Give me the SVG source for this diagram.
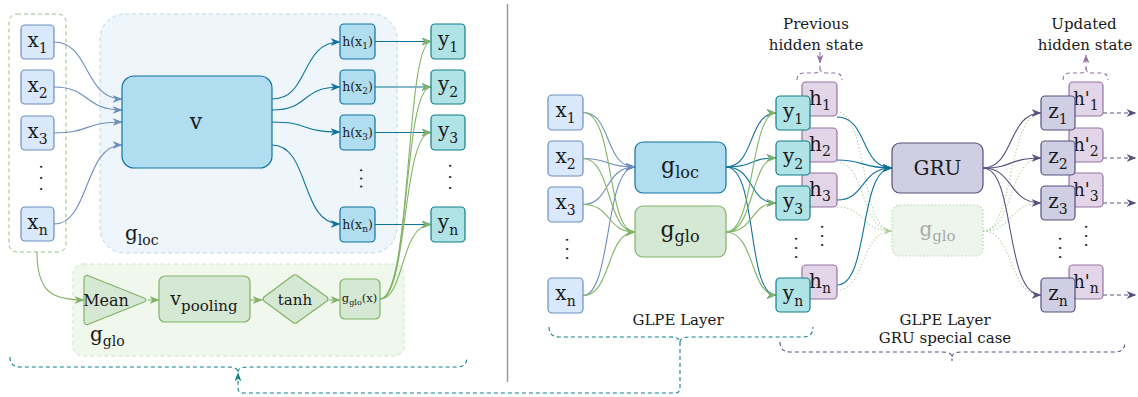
<svg xmlns="http://www.w3.org/2000/svg" width="1138" height="397" viewBox="0 0 1138 397">
  <style>
    text { font-family: "DejaVu Serif", "Liberation Serif", serif; fill: #1a1a1a; }
    .c { text-anchor: middle; }
    .big { font-size: 20px; }
    .sub { font-size: 14px; }
    .cap { font-size: 15px; }
    .blue { fill: #dae8fc; stroke: #6c8ebf; stroke-width: 1.2; }
    .cyan { fill: #b1ddf0; stroke: #10739e; stroke-width: 1.2; }
    .teal { fill: #b0e3e6; stroke: #0e8088; stroke-width: 1.2; }
    .green { fill: #d5e8d4; stroke: #82b366; stroke-width: 1.2; }
    .lilac { fill: #e1d5e7; stroke: #9673a6; stroke-width: 1.2; }
    .violet { fill: #d0cee2; stroke: #56517e; stroke-width: 1.2; }
    .faded { fill: #eef5ec; stroke: #b9d7ad; stroke-width: 1.2; stroke-dasharray: 1.5 2; }
    .e { fill: none; stroke-width: 1.1; }
    .eb { stroke: #6c8ebf; marker-end: url(#ab); }
    .et { stroke: #10739e; marker-end: url(#at); }
    .eg { stroke: #82b366; marker-end: url(#ag); }
    .ev { stroke: #56517e; marker-end: url(#av); }
    .dot { stroke: #a9cf97; stroke-dasharray: 1.2 2.2; }
    .dots { font-size: 16px; }
  </style>
  <defs>
    <marker id="ab" viewBox="0 0 10 8" refX="9.5" refY="4" markerWidth="10" markerHeight="8" markerUnits="userSpaceOnUse" orient="auto"><path d="M0,0 L10,4 L0,8 L3,4 Z" fill="#6c8ebf"/></marker>
    <marker id="at" viewBox="0 0 10 8" refX="9.5" refY="4" markerWidth="10" markerHeight="8" markerUnits="userSpaceOnUse" orient="auto"><path d="M0,0 L10,4 L0,8 L3,4 Z" fill="#10739e"/></marker>
    <marker id="ag" viewBox="0 0 10 8" refX="9.5" refY="4" markerWidth="10" markerHeight="8" markerUnits="userSpaceOnUse" orient="auto"><path d="M0,0 L10,4 L0,8 L3,4 Z" fill="#82b366"/></marker>
    <marker id="av" viewBox="0 0 10 8" refX="9.5" refY="4" markerWidth="10" markerHeight="8" markerUnits="userSpaceOnUse" orient="auto"><path d="M0,0 L10,4 L0,8 L3,4 Z" fill="#56517e"/></marker>
    <marker id="ap" viewBox="0 0 10 8" refX="9.5" refY="4" markerWidth="9" markerHeight="7" markerUnits="userSpaceOnUse" orient="auto"><path d="M0,0 L10,4 L0,8 L3,4 Z" fill="#9673a6"/></marker>
    <marker id="ac" viewBox="0 0 10 8" refX="9.5" refY="4" markerWidth="9" markerHeight="7" markerUnits="userSpaceOnUse" orient="auto"><path d="M0,0 L10,4 L0,8 L3,4 Z" fill="#0e8088"/></marker>
  </defs>

  <!-- ========== left panel: containers ========== -->
  <g id="gloc-region">
    <rect x="100" y="14" width="297" height="239" rx="25" fill="#eef6fc" stroke="#b9d9e6" stroke-dasharray="4 3"/>
    <text x="125" y="240" class="big">g<tspan class="sub" dy="5">loc</tspan></text>
  </g>
  <g id="gglo-region">
    <rect x="73" y="264" width="331" height="92" rx="10" fill="#f0f7ed" stroke="#cfe4c6" stroke-dasharray="4 3"/>
    <text x="90" y="341" class="big">g<tspan class="sub" dy="5">glo</tspan></text>
  </g>
  <g id="inputs-frame">
    <rect x="9" y="14" width="57" height="238" rx="8" fill="none" stroke="#97c27d" stroke-dasharray="4 3"/>
  </g>

  <!-- ========== left panel: connectors ========== -->
  <g id="connectors-left" class="e">
    <path class="e eb" d="M54,42 C90,42 84,99 122,99"/>
    <path class="e eb" d="M54,87 C90,87 84,110 122,110"/>
    <path class="e eb" d="M54,133 C90,133 84,122 122,122"/>
    <path class="e eb" d="M54,224 C90,224 84,145 122,145"/>

    <path class="e et" d="M272,99 C310,99 300,42 340,42"/>
    <path class="e et" d="M272,110 C310,110 300,87 340,87"/>
    <path class="e et" d="M272,122 C310,122 300,132 340,132"/>
    <path class="e et" d="M272,145 C310,145 300,224 340,224"/>

    <path class="e et" d="M375,41.5 H431"/>
    <path class="e et" d="M375,87 H431"/>
    <path class="e et" d="M375,132.5 H431"/>
    <path class="e et" d="M375,224.5 H431"/>

    <path class="e eg" d="M380,299 C412,299 405,41.5 431,41.5"/>
    <path class="e eg" d="M380,299 C410,299 403,87 431,87"/>
    <path class="e eg" d="M380,299 C408,299 402,132.5 431,132.5"/>
    <path class="e eg" d="M380,299 C405,299 400,224.5 431,224.5"/>

    <path class="e eg" d="M37,252 C37,292 52,300 84,300"/>
    <path class="e eg" d="M148,300 H159"/>
    <path class="e eg" d="M250,300 H262"/>
    <path class="e eg" d="M329,300 H340"/>
  </g>

  <!-- ========== left panel: nodes ========== -->
  <g id="x1"><rect class="blue" x="21" y="25" width="33" height="34" rx="4"/><text x="37.5" y="47" class="c big">x<tspan class="sub" dy="6">1</tspan></text></g>
  <g id="x2"><rect class="blue" x="21" y="70" width="33" height="34" rx="4"/><text x="37.5" y="92" class="c big">x<tspan class="sub" dy="6">2</tspan></text></g>
  <g id="x3"><rect class="blue" x="21" y="116" width="33" height="34" rx="4"/><text x="37.5" y="138" class="c big">x<tspan class="sub" dy="6">3</tspan></text></g>
  <text x="36" y="181" class="dots" transform="rotate(90 36 181)" text-anchor="middle" letter-spacing="6" dy="-4">...</text>
  <g id="xn"><rect class="blue" x="21" y="207" width="33" height="34" rx="4"/><text x="37.5" y="229" class="c big">x<tspan class="sub" dy="6">n</tspan></text></g>

  <g id="V"><rect class="cyan" x="122" y="76" width="150" height="92" rx="12"/><text x="196" y="129" class="c" font-size="22">v</text></g>

  <g id="hx1"><rect class="cyan" x="340" y="24" width="35" height="35" rx="4"/><text x="357.5" y="46" class="c" font-size="12.5">h(x<tspan font-size="9" dy="3">1</tspan><tspan dy="-3">)</tspan></text></g>
  <g id="hx2"><rect class="cyan" x="340" y="70" width="35" height="34" rx="4"/><text x="357.5" y="91" class="c" font-size="12.5">h(x<tspan font-size="9" dy="3">2</tspan><tspan dy="-3">)</tspan></text></g>
  <g id="hx3"><rect class="cyan" x="340" y="115" width="35" height="35" rx="4"/><text x="357.5" y="137" class="c" font-size="12.5">h(x<tspan font-size="9" dy="3">3</tspan><tspan dy="-3">)</tspan></text></g>
  <text x="357" y="180" class="dots" font-size="13" transform="rotate(90 357 180)" text-anchor="middle" letter-spacing="3" dy="-3">...</text>
  <g id="hxn"><rect class="cyan" x="340" y="207" width="35" height="35" rx="4"/><text x="357.5" y="229" class="c" font-size="12.5">h(x<tspan font-size="9" dy="3">n</tspan><tspan dy="-3">)</tspan></text></g>

  <g id="y1"><rect class="teal" x="431" y="24" width="34" height="35" rx="4"/><text x="448" y="46" class="c big">y<tspan class="sub" dy="6">1</tspan></text></g>
  <g id="y2"><rect class="teal" x="431" y="70" width="34" height="34" rx="4"/><text x="448" y="91" class="c big">y<tspan class="sub" dy="6">2</tspan></text></g>
  <g id="y3"><rect class="teal" x="431" y="115" width="34" height="35" rx="4"/><text x="448" y="137" class="c big">y<tspan class="sub" dy="6">3</tspan></text></g>
  <text x="445" y="180" class="dots" transform="rotate(90 445 180)" text-anchor="middle" letter-spacing="6" dy="-4">...</text>
  <g id="yn"><rect class="teal" x="431" y="207" width="34" height="35" rx="4"/><text x="448" y="229" class="c big">y<tspan class="sub" dy="6">n</tspan></text></g>

  <g id="mean"><path class="green" stroke-linejoin="round" d="M84,279 Q84,274 89,276 L144,298 Q148,300 144,302 L89,324 Q84,326 84,321 Z"/><text x="106" y="306" class="c" font-size="16">Mean</text></g>
  <g id="vpooling"><rect class="green" x="159" y="276" width="91" height="46" rx="6"/><text x="204" y="305" class="c" font-size="19">v<tspan font-size="15" dy="6">pooling</tspan></text></g>
  <g id="tanh"><path class="green" stroke-linejoin="round" d="M264,297 L293,275.5 Q295,274 297,275.5 L327,297 Q329,299 327,301 L297,322.5 Q295,324 293,322.5 L264,301 Q262,299 264,297 Z"/><text x="295" y="305" class="c cap">tanh</text></g>
  <g id="gglox"><rect class="green" x="340" y="279" width="40" height="40" rx="5"/><text x="359.5" y="302" class="c" font-size="11.5">g<tspan font-size="8" dy="3">glo</tspan><tspan dy="-3">(x)</tspan></text></g>

  <!-- divider between the two panels -->
  <line x1="507.5" y1="4" x2="507.5" y2="382" stroke="#9a9a9a" stroke-width="1.5"/>

  <!-- ========== right panel: connectors ========== -->
  <g id="connectors-right">
    <path class="e eb" d="M583,112.5 C612,112.5 604,167 635,167"/>
    <path class="e eb" d="M583,158.5 C610,158.5 604,167 635,167"/>
    <path class="e eb" d="M583,204.5 C610,204.5 604,167 635,167"/>
    <path class="e eb" d="M583,295.5 C612,295.5 604,167 635,167"/>
    <path class="e eg" d="M583,112.5 C615,112.5 606,232 635,232"/>
    <path class="e eg" d="M583,158.5 C612,158.5 606,232 635,232"/>
    <path class="e eg" d="M583,204.5 C612,204.5 606,232 635,232"/>
    <path class="e eg" d="M583,295.5 C612,295.5 606,232 635,232"/>

    <path class="e et" d="M726,167 C755,167 748,113 776,113"/>
    <path class="e et" d="M726,167 C755,167 748,158 776,158"/>
    <path class="e et" d="M726,167 C755,167 748,203 776,203"/>
    <path class="e et" d="M726,167 C758,167 746,295 776,295"/>
    <path class="e eg" d="M726,232 C755,232 750,113 776,113"/>
    <path class="e eg" d="M726,232 C755,232 750,158 776,158"/>
    <path class="e eg" d="M726,232 C755,232 750,203 776,203"/>
    <path class="e eg" d="M726,232 C755,232 750,295 776,295"/>

    <path class="e dot" d="M837,112 C868,112 860,231 892,231"/>
    <path class="e dot" d="M837,162 C866,162 860,231 892,231"/>
    <path class="e dot" d="M837,207 C866,207 860,231 892,231"/>
    <path class="e dot" d="M837,290 C866,290 860,231 892,231"/>
    <path d="M884,227.5 L892,231 L884,234.5 L886.5,231 Z" fill="#a9cf97"/>

    <path class="e et" d="M837,117 C868,117 860,168 892,168"/>
    <path class="e et" d="M837,160 C866,160 860,168 892,168"/>
    <path class="e et" d="M837,200 C866,200 860,168 892,168"/>
    <path class="e et" d="M837,285 C870,285 858,168 892,168"/>

    <path class="e dot" d="M983,231 C1014,231 1008,113 1041,113"/>
    <path class="e dot" d="M983,231 C1014,231 1008,158 1041,158"/>
    <path class="e dot" d="M983,231 C1014,231 1008,203 1041,203"/>
    <path class="e dot" d="M983,231 C1014,231 1008,295 1041,295"/>

    <path class="e ev" d="M983,168 C1014,168 1008,113 1041,113"/>
    <path class="e ev" d="M983,168 C1014,168 1008,158 1041,158"/>
    <path class="e ev" d="M983,168 C1014,168 1008,203 1041,203"/>
    <path class="e ev" d="M983,168 C1016,168 1004,295 1041,295"/>

    <path class="e ev" stroke-dasharray="4 3" d="M1103,113 H1136"/>
    <path class="e ev" stroke-dasharray="4 3" d="M1103,158 H1136"/>
    <path class="e ev" stroke-dasharray="4 3" d="M1103,203 H1136"/>
    <path class="e ev" stroke-dasharray="4 3" d="M1103,295 H1136"/>

    <!-- hidden-state braces -->
    <path class="e" stroke="#9673a6" stroke-dasharray="4 3" d="M797,80 Q797,73 804,73 H814 Q820,73 820,68 V63 M820,68 Q820,73 826,73 H835 Q842,73 842,80"/>
    <path class="e" stroke="#9673a6" d="M820,52 V63" marker-end="url(#ap)"/>
    <path class="e" stroke="#9673a6" stroke-dasharray="4 3" d="M1063,80 Q1063,73 1070,73 H1080 Q1086,73 1086,68 M1086,68 Q1086,73 1092,73 H1101 Q1108,73 1108,80"/>
    <path class="e" stroke="#9673a6" stroke-dasharray="4 3" d="M1086,70 V55" marker-end="url(#ap)"/>

    <!-- layer braces -->
    <path class="e" stroke="#0e8088" stroke-dasharray="4 3" d="M10,357 Q10,367 20,367 H228 Q238,367 238,372 M238,372 Q238,367 248,367 H457 Q467,367 467,357"/>
    <path class="e" stroke="#0e8088" stroke-dasharray="4 3" d="M549,327 Q549,337 559,337 H670 Q680,337 680,342 M680,342 Q680,337 690,337 H803 Q813,337 813,327"/>
    <path class="e" stroke="#0e8088" stroke-dasharray="4 3" d="M680,342 V388 Q680,393 675,393 H243 Q238,393 238,388 V373" marker-end="url(#ac)"/>
    <path class="e" stroke="#56517e" stroke-dasharray="4 3" d="M780,342 Q780,352 790,352 H942 Q952,352 952,357 V361 M952,357 Q952,352 962,352 H1115 Q1125,352 1125,342"/>
  </g>

  <!-- ========== right panel: nodes ========== -->
  <g id="rx1"><rect class="blue" x="548" y="95" width="35" height="35" rx="4"/><text x="565.5" y="117" class="c big">x<tspan class="sub" dy="6">1</tspan></text></g>
  <g id="rx2"><rect class="blue" x="548" y="141" width="35" height="35" rx="4"/><text x="565.5" y="163" class="c big">x<tspan class="sub" dy="6">2</tspan></text></g>
  <g id="rx3"><rect class="blue" x="548" y="187" width="35" height="35" rx="4"/><text x="565.5" y="209" class="c big">x<tspan class="sub" dy="6">3</tspan></text></g>
  <text x="563" y="251" class="dots" font-size="14" transform="rotate(90 563 251)" text-anchor="middle" letter-spacing="4" dy="-3">...</text>
  <g id="rxn"><rect class="blue" x="548" y="278" width="35" height="35" rx="4"/><text x="565.5" y="300" class="c big">x<tspan class="sub" dy="6">n</tspan></text></g>

  <g id="gloc"><rect class="cyan" x="635" y="142" width="91" height="51" rx="8"/><text x="680" y="173" class="c" font-size="22">g<tspan font-size="16" dy="5">loc</tspan></text></g>
  <g id="gglo"><rect class="green" x="635" y="206" width="91" height="51" rx="8"/><text x="680" y="237" class="c" font-size="22">g<tspan font-size="16" dy="5">glo</tspan></text></g>

  <g id="h1"><rect class="lilac" x="802" y="82" width="35" height="34" rx="4"/><text x="820" y="105" class="c big">h<tspan class="sub" dy="5">1</tspan></text></g>
  <g id="h2"><rect class="lilac" x="802" y="128" width="35" height="34" rx="4"/><text x="820" y="151" class="c big">h<tspan class="sub" dy="5">2</tspan></text></g>
  <g id="h3"><rect class="lilac" x="802" y="173" width="35" height="34" rx="4"/><text x="820" y="196" class="c big">h<tspan class="sub" dy="5">3</tspan></text></g>
  <text x="818" y="238" class="dots" font-size="14" transform="rotate(90 818 238)" text-anchor="middle" letter-spacing="4" dy="-3">...</text>
  <g id="hn"><rect class="lilac" x="802" y="265" width="35" height="34" rx="4"/><text x="820" y="288" class="c big">h<tspan class="sub" dy="5">n</tspan></text></g>

  <g id="ry1"><rect class="teal" x="776" y="96" width="34" height="34" rx="4"/><text x="793" y="118" class="c big">y<tspan class="sub" dy="6">1</tspan></text></g>
  <g id="ry2"><rect class="teal" x="776" y="141" width="34" height="34" rx="4"/><text x="793" y="163" class="c big">y<tspan class="sub" dy="6">2</tspan></text></g>
  <g id="ry3"><rect class="teal" x="776" y="186" width="34" height="34" rx="4"/><text x="793" y="208" class="c big">y<tspan class="sub" dy="6">3</tspan></text></g>
  <text x="792" y="250" class="dots" font-size="14" transform="rotate(90 792 250)" text-anchor="middle" letter-spacing="4" dy="-3">...</text>
  <g id="ryn"><rect class="teal" x="776" y="278" width="34" height="34" rx="4"/><text x="793" y="300" class="c big">y<tspan class="sub" dy="6">n</tspan></text></g>

  <g id="gru"><rect class="violet" x="892" y="143" width="91" height="50" rx="8"/><text x="937.5" y="175" class="c big">GRU</text></g>
  <g id="gglo-faded"><rect class="faded" x="892" y="205" width="91" height="51" rx="8"/><text x="937.5" y="236" class="c" font-size="20" style="fill:#aaaaaa">g<tspan font-size="15" dy="5">glo</tspan></text></g>

  <g id="hp1"><rect class="lilac" x="1069" y="82" width="34" height="34" rx="4"/><text x="1086" y="105" class="c" font-size="18">h'<tspan class="sub" font-size="13" dy="5">1</tspan></text></g>
  <g id="hp2"><rect class="lilac" x="1069" y="128" width="34" height="34" rx="4"/><text x="1086" y="151" class="c" font-size="18">h'<tspan class="sub" font-size="13" dy="5">2</tspan></text></g>
  <g id="hp3"><rect class="lilac" x="1069" y="173" width="34" height="34" rx="4"/><text x="1086" y="196" class="c" font-size="18">h'<tspan class="sub" font-size="13" dy="5">3</tspan></text></g>
  <text x="1082" y="238" class="dots" font-size="14" transform="rotate(90 1082 238)" text-anchor="middle" letter-spacing="4" dy="-3">...</text>
  <g id="hpn"><rect class="lilac" x="1069" y="265" width="34" height="34" rx="4"/><text x="1086" y="288" class="c" font-size="18">h'<tspan class="sub" font-size="13" dy="5">n</tspan></text></g>

  <g id="z1"><rect class="violet" x="1041" y="96" width="34" height="34" rx="4"/><text x="1058" y="118" class="c big">z<tspan class="sub" dy="6">1</tspan></text></g>
  <g id="z2"><rect class="violet" x="1041" y="141" width="34" height="34" rx="4"/><text x="1058" y="163" class="c big">z<tspan class="sub" dy="6">2</tspan></text></g>
  <g id="z3"><rect class="violet" x="1041" y="186" width="34" height="34" rx="4"/><text x="1058" y="208" class="c big">z<tspan class="sub" dy="6">3</tspan></text></g>
  <text x="1056" y="250" class="dots" font-size="14" transform="rotate(90 1056 250)" text-anchor="middle" letter-spacing="4" dy="-3">...</text>
  <g id="zn"><rect class="violet" x="1041" y="278" width="34" height="34" rx="4"/><text x="1058" y="300" class="c big">z<tspan class="sub" dy="6">n</tspan></text></g>

  <!-- captions -->
  <g id="captions">
    <text x="816" y="29" class="c cap">Previous</text>
    <text x="816" y="50" class="c cap">hidden state</text>
    <text x="1084" y="29" class="c cap">Updated</text>
    <text x="1085" y="50" class="c cap">hidden state</text>
    <text x="678" y="325" class="c cap">GLPE Layer</text>
    <text x="945" y="325" class="c cap">GLPE Layer</text>
    <text x="945" y="343" class="c cap">GRU special case</text>
  </g>
</svg>
